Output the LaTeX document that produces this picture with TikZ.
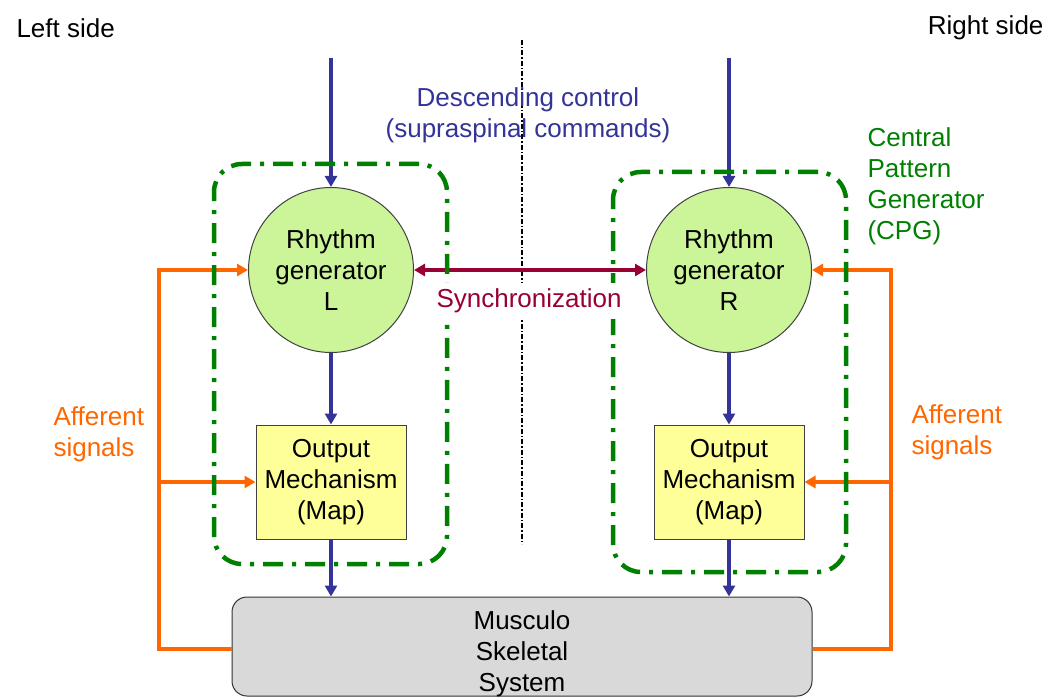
\documentclass[tikz,border=0pt]{standalone}
\usepackage{fontspec}
\setmainfont{Liberation Sans}
\usetikzlibrary{arrows.meta}
\definecolor{ctrlblue}{HTML}{333399}
\definecolor{syncred}{HTML}{990033}
\definecolor{afforange}{HTML}{FF6600}
\definecolor{cpggreen}{HTML}{008000}
\definecolor{rhythmfill}{HTML}{CCF59A}
\definecolor{mapfill}{HTML}{FFFF99}
\definecolor{bodyfill}{HTML}{D9D9D9}

\begin{document}
\begin{tikzpicture}[x=1pt, y=-1pt,
		every node/.style={font=\fontsize{26}{31}\selectfont},
		rhythm/.style={circle, draw=black!75, line width=1pt, fill=rhythmfill, minimum size=165pt, inner sep=0pt, align=center},
		outmap/.style={rectangle, draw=black!75, line width=1pt, fill=mapfill, minimum width=150pt, minimum height=114pt, inner sep=0pt, align=center},
		cpgbox/.style={rectangle, draw=cpggreen, line width=4.5pt, rounded corners=28pt, dash pattern=on 20pt off 9pt on 4pt off 9pt},
		ctrl/.style={ctrlblue, line width=3.5pt, -{Triangle[length=11pt, width=12pt]}},
		aff/.style={afforange, line width=4.5pt, -{Triangle[length=11pt, width=12pt]}}
	]
	\useasboundingbox (0, 0) rectangle (1050, 698);
	\node [anchor=west] (leftside) at (13, 28) {Left side};
	\node [anchor=east] (rightside) at (1047, 28) {Right side};
	\coordinate (midtop) at (522, 40);
	\coordinate (midbot) at (522, 544);
	\draw [black, line width=1.5pt, dash pattern=on 5pt off 2pt on 1.5pt off 2pt] (midtop) -- (midbot);
	\node [ctrlblue, align=center] (descending) at (528, 115) {Descending control\\(supraspinal commands)};
	\node [cpggreen, anchor=west, align=left] (cpglabel) at (864, 186) {Central\\Pattern\\Generator\\(CPG)};
	\node [rhythm] (circL) at (331, 270) {Rhythm\\generator\\L};
	\node [rhythm] (circR) at (729, 270) {Rhythm\\generator\\R};
	\node [outmap] (mapL) at (331, 482) {Output\\Mechanism\\(Map)};
	\node [outmap] (mapR) at (729, 482) {Output\\Mechanism\\(Map)};
	\node [rectangle, draw=black!80, line width=1pt, fill=bodyfill, rounded corners=15pt, minimum width=580pt, minimum height=99pt, inner sep=0pt,
		label={[align=center, yshift=-7pt]center:Musculo\\Skeletal\\System}] (body) at (522, 646.5) {};
	\coordinate (topL) at (331, 58);
	\coordinate (topR) at (729, 58);
	\draw [ctrl] (topL) -- (circL);
	\draw [ctrl] (topR) -- (circR);
	\draw [ctrl] (circL) -- (mapL);
	\draw [ctrl] (circR) -- (mapR);
	\draw [ctrl] (mapL) -- (mapL |- body.north);
	\draw [ctrl] (mapR) -- (mapR |- body.north);
	\draw [syncred, line width=4.5pt, {Triangle[length=11pt, width=12pt]}-{Triangle[length=11pt, width=12pt]}] (circL) -- (circR);
	\coordinate (affL) at (159, 649);
	\coordinate (affR) at (891, 649);
	\draw [aff] (body.west |- affL) -- (affL) -- (affL |- circL) -- (circL);
	\draw [aff] (affL |- mapL) -- (mapL);
	\draw [aff] (body.east |- affR) -- (affR) -- (affR |- circR) -- (circR);
	\draw [aff] (affR |- mapR) -- (mapR);
	\node [afforange, anchor=west, align=left] (affsigL) at (50, 434) {Afferent\\signals};
	\node [afforange, anchor=west, align=left] (affsigR) at (908, 432) {Afferent\\signals};
	\node [cpgbox, minimum width=233pt, minimum height=400pt] (cpgL) at (330.5, 364) {};
	\node [cpgbox, minimum width=233pt, minimum height=400pt] (cpgR) at (729.5, 372) {};
	\node [syncred, fill=white, inner xsep=1pt, inner ysep=6pt] (synclabel) at (529, 301) {Synchronization};
\end{tikzpicture}
\end{document}
